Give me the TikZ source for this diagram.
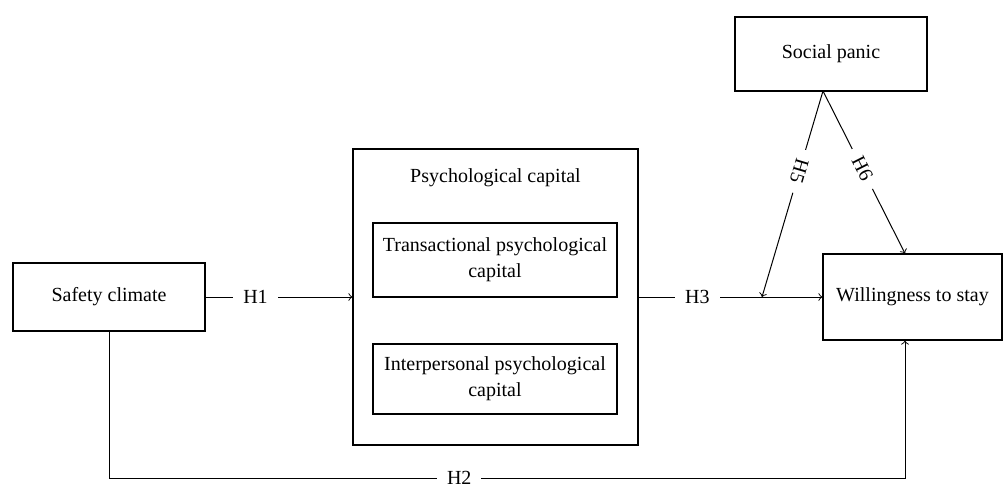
\documentclass[tikz,border=0pt]{standalone}
\usepackage{fontspec}
\setmainfont{Liberation Serif}
\usetikzlibrary{positioning}
\begin{document}
\begin{tikzpicture}[x=0.5pt, y=-0.5pt, line width=0.5pt]
\tikzstyle{box} = [draw, line width=0.6pt, align=center, inner sep=0pt, font=\fontsize{10}{13}\selectfont]
\tikzstyle{hyp} = [fill=white, inner xsep=5pt, inner ysep=2pt]
\useasboundingbox (0,0) rectangle (1003,487);
\node[box, minimum width=96pt, minimum height=34pt] (safety) at (109,297) {Safety climate};
\node[box, minimum width=142.5pt, minimum height=148pt] (psycap) at (495.5,297) {};
\node (psytitle) at (495.5,178) {Psychological capital};
\node[box, minimum width=122pt, minimum height=37pt] (trans) at (495,260) {Transactional psychological\\capital};
\node[box, minimum width=122pt, minimum height=35pt] (inter) at (495,379) {Interpersonal psychological\\capital};
\node[box, minimum width=96pt, minimum height=37pt] (panic) at (831,54) {Social panic};
\node[box, minimum width=89.5pt, minimum height=43pt] (stay) at (912.5,297) {Willingness to stay};
\coordinate (apex) at (823,91);
\coordinate (mod) at (762,297);
\coordinate (h2b) at (905,478);
\draw[->] (safety) -- node[hyp, pos=0.34] (h1) {H1} (psycap);
\draw[->] (psycap) -- node[hyp, pos=0.32] (h3) {H3} (stay);
\draw[->] (safety) |- node[hyp, pos=0.72] (h2) {H2} (h2b) -- (stay.south -| h2b);
\draw[->] (apex) -- node[hyp, rotate=-106.5, pos=0.39] (h5) {H5} (mod);
\draw[->] (apex) -- node[hyp, rotate=-63.3, pos=0.48] (h6) {H6} (stay.north -| h2b);
\end{tikzpicture}
\end{document}
